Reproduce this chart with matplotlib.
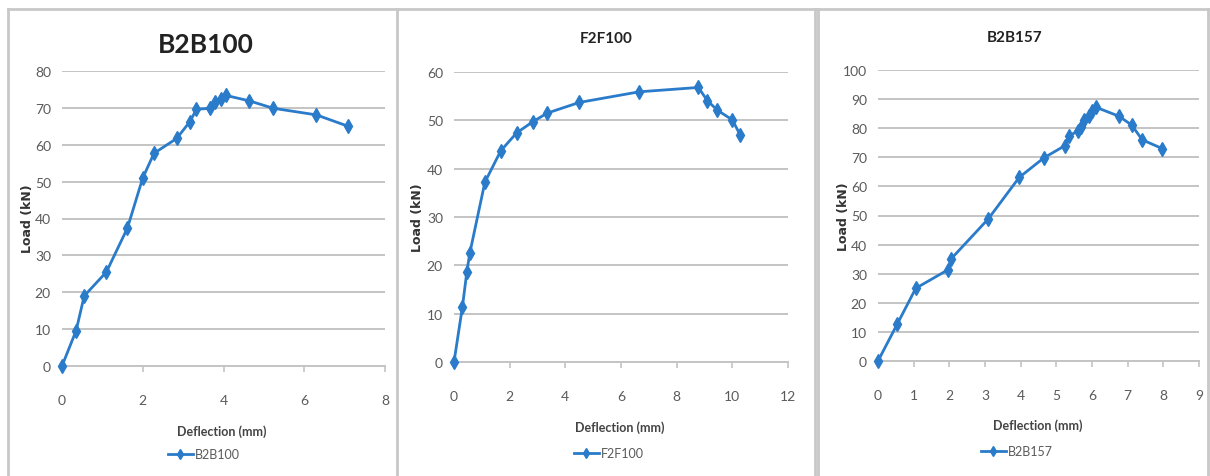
import matplotlib
matplotlib.use("Agg")
import matplotlib.pyplot as plt
from matplotlib.lines import Line2D

# ---- data ----
b2b100_defl = [0, 0.35, 0.55, 1.1, 1.62, 2.0, 2.28, 2.84, 3.17, 3.33, 3.66, 3.79, 3.95, 4.05, 4.64, 5.23, 6.3, 7.09]
b2b100_load = [0, 9.6, 19.0, 25.5, 37.4, 51.0, 57.7, 61.7, 66.3, 69.6, 69.9, 71.5, 72.4, 73.4, 71.9, 69.9, 68.1, 65.0]

f2f100_defl = [0, 0.3, 0.46, 0.57, 1.11, 1.68, 2.25, 2.83, 3.35, 4.5, 6.65, 8.78, 9.1, 9.46, 10.0, 10.28]
f2f100_load = [0, 11.3, 18.6, 22.6, 37.2, 43.7, 47.4, 49.7, 51.5, 53.7, 55.9, 56.8, 54.1, 52.1, 50.1, 47.0]

b2b157_defl = [0, 0.54, 1.06, 1.97, 2.05, 3.09, 3.96, 4.65, 5.24, 5.36, 5.62, 5.68, 5.78, 5.92, 6.0, 6.11, 6.76, 7.11, 7.41, 7.97]
b2b157_load = [0, 12.7, 25.0, 31.4, 35.1, 48.8, 63.1, 69.8, 74.0, 77.4, 79.1, 80.3, 82.8, 84.1, 86.0, 87.2, 84.1, 81.1, 76.0, 73.0]

titles = ["B2B100", "F2F100", "B2B157"]
series_names = ["B2B100", "F2F100", "B2B157"]
x_label = "Deflection (mm)"
y_label = "Load (kN)"
x_limits = [(0, 8), (0, 12), (0, 9)]
x_steps = [2, 2, 1]
y_limits = [(0, 80), (0, 60), (0, 100)]
y_steps = [10, 10, 10]

# ---- style ----
W, H = 1210, 477
FONT = ["Lato", "DejaVu Sans"]
plt.rcParams["font.family"] = FONT
BLUE = "#2a7bc9"
GRID = "#c4c4c4"
TXT = "#5a5a5a"

fig = plt.figure(figsize=(W / 100, H / 100), dpi=100)
fig.patch.set_facecolor("white")

def fx(px):
    return px / W

def fy(py):
    return 1 - py / H

# axes boxes in pixels: (left, top, right, bottom)
boxes = [(62, 72, 385, 367), (454, 73, 788, 363), (878, 71, 1199, 362)]
title_pos = [(206, 45, 19, "bold"), (606, 39, 11, "bold"), (1015, 38, 11, "bold")]
ylabel_pos = [(27, 219), (418, 218), (843, 217)]
xlabel_pos = [(222, 432), (620, 428), (1038, 426)]
legend_pos = [(204, 455), (609, 454), (1017, 452)]

datasets = [(b2b100_defl, b2b100_load), (f2f100_defl, f2f100_load), (b2b157_defl, b2b157_load)]

for i, (xs, ys) in enumerate(datasets):
    l, t, r, b = boxes[i]
    ax = fig.add_axes([fx(l), fy(b), fx(r - l), (b - t) / H])
    ax.plot(xs, ys, color=BLUE, lw=2.0, marker="d", ms=7, mec=BLUE, mfc=BLUE,
            label=series_names[i], clip_on=False, zorder=3)
    x0, x1 = x_limits[i]
    y0, y1 = y_limits[i]
    ax.set_xlim(x0, x1)
    ax.set_ylim(y0, y1)
    ax.set_xticks(list(range(x0, x1 + 1, x_steps[i])))
    ax.set_yticks(list(range(y0, y1 + 1, y_steps[i])))
    ax.yaxis.grid(True, color=GRID, lw=1.4)
    ax.set_axisbelow(True)
    for s in ["top", "right", "left"]:
        ax.spines[s].set_visible(False)
    ax.spines["bottom"].set_color(GRID)
    ax.spines["bottom"].set_linewidth(1.4)
    ax.tick_params(axis="x", direction="out", length=4, width=1.2, color=GRID,
                   pad=16, labelsize=10, labelcolor=TXT)
    ax.tick_params(axis="y", length=0, pad=8, labelsize=10, labelcolor=TXT)

    tx, ty, ts, tw = title_pos[i]
    fig.text(fx(tx), fy(ty), titles[i], ha="center", va="center",
             fontsize=ts, fontweight=tw, color="#222222")
    yx, yy = ylabel_pos[i]
    fig.text(fx(yx), fy(yy), y_label, rotation=90, ha="center", va="center",
             fontsize=9, fontweight="bold", color="#333333", family="DejaVu Sans")
    xx, xy = xlabel_pos[i]
    fig.text(fx(xx), fy(xy), x_label, ha="center", va="center",
             fontsize=9, fontweight="bold", color="#444444")
    lx, ly = legend_pos[i]
    ax.legend(loc="center", bbox_to_anchor=(fx(lx), fy(ly)), bbox_transform=fig.transFigure,
              frameon=False, fontsize=9, labelcolor=TXT, handlelength=2.0,
              handletextpad=0.2, borderpad=0, markerscale=0.8)

# panel frames
FR = "#c8c8c8"
def vline(x, y0, y1):
    fig.add_artist(Line2D([fx(x), fx(x)], [fy(y0), fy(y1)], color=FR, lw=2.0))

def hline(y, x0, x1):
    fig.add_artist(Line2D([fx(x0), fx(x1)], [fy(y), fy(y)], color=FR, lw=2.0))

hline(10, 8, 1208)
vline(8, 10, 477)
vline(397, 10, 477)
vline(815, 10, 477)
vline(818, 10, 477)
vline(1208, 10, 477)

fig.savefig("out.png", dpi=100, facecolor="white")
